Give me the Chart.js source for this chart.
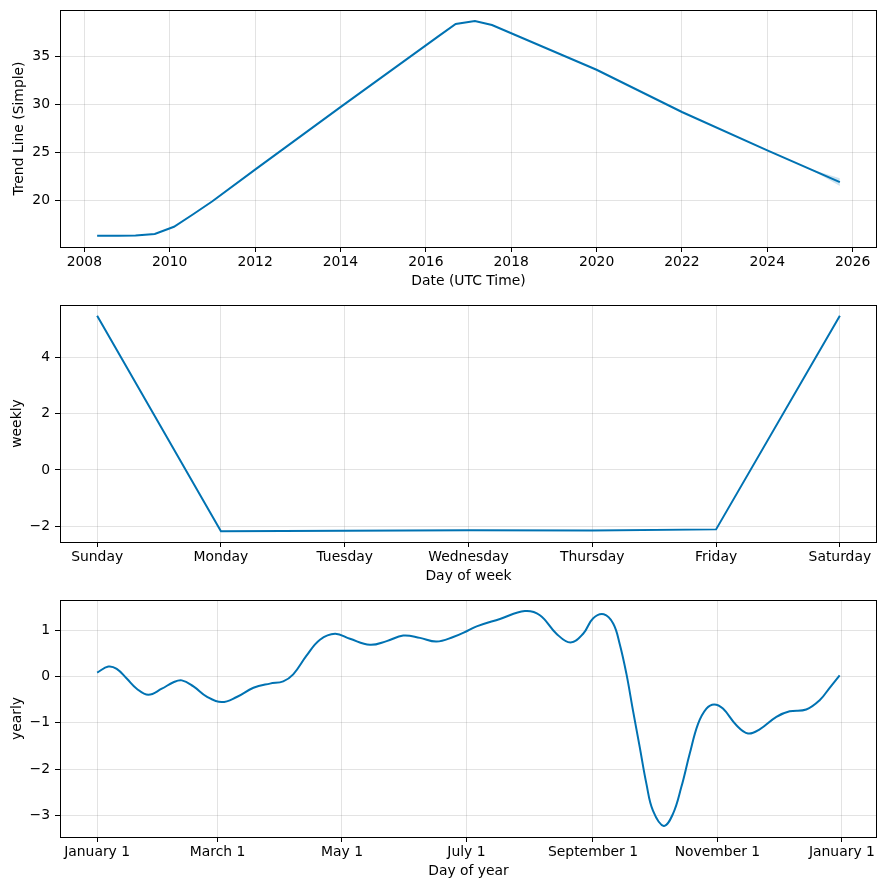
<!DOCTYPE html>
<html>
<head>
<meta charset="utf-8">
<script src="https://cdn.jsdelivr.net/npm/chart.js@4.4.0/dist/chart.umd.min.js"></script>
<style>
body { margin: 0; background: #fff; }
#wrap { position: relative; width: 886px; height: 890px; }
canvas { position: absolute; left: 0; }
</style>
</head>
<body>
<div id="wrap">
<canvas id="trendChart" width="886" height="290" style="top:0px"></canvas>
<canvas id="weeklyChart" width="886" height="290" style="top:295px"></canvas>
<canvas id="yearlyChart" width="886" height="290" style="top:590px"></canvas>
</div>
<script>
// trend component (decimal years)
var trendYears = [2008.3, 2008.8, 2009.2, 2009.65, 2010.1, 2010.55, 2011.0, 2012.0, 2014.0, 2016.3, 2016.7, 2017.15, 2017.55, 2020.0, 2022.0, 2024.0, 2025.7];
var trendValues = [16.30, 16.32, 16.35, 16.5, 17.25, 18.55, 19.9, 23.2, 29.7, 37.1, 38.37, 38.68, 38.26, 33.6, 29.2, 25.2, 21.9];
var bandYears = [2024.9, 2025.3, 2025.7];
var bandLower = [23.45, 22.5, 21.5];
var bandUpper = [23.45, 22.85, 22.3];
var trendTickYears = [2008, 2010, 2012, 2014, 2016, 2018, 2020, 2022, 2024, 2026];
var trendTickValues = [20, 25, 30, 35];

// weekly component
var weekDays = ['Sunday', 'Monday', 'Tuesday', 'Wednesday', 'Thursday', 'Friday', 'Saturday'];
var weeklyValues = [5.5, -2.19, -2.17, -2.15, -2.16, -2.12, 5.5];
var weeklyTickValues = [-2, 0, 2, 4];

// yearly component (day of year)
var yearDays = [0, 5.5, 9.6, 14.5, 19.4, 25.1, 31.7, 37.4, 41.5, 47.2,
    53.7, 61, 68.4, 76.6, 84.7, 91.2, 96.1, 102.7, 109.2, 116.6,
    123.9, 133.7, 141.9, 150, 158.2, 166.3, 174.5, 181.8, 186, 197.4,
    209.6, 217, 225.1, 232, 238.2, 243, 248.3, 252.9, 256.1, 259.4,
    262.6, 265.9, 269.2, 272.4, 277.7, 282.2, 286.3, 290.4, 294.5, 298.6,
    302.4, 306.7, 313.3, 319, 324.7, 332.9, 339.4, 347.5, 354.1, 359, 363.9];
var yearValues = [0.09, 0.22, 0.17, -0.04, -0.26, -0.39, -0.26, -0.12, -0.08, -0.21,
    -0.43, -0.55, -0.44, -0.24, -0.15, -0.10, 0.05, 0.46, 0.80, 0.93,
    0.82, 0.69, 0.77, 0.89, 0.84, 0.76, 0.86, 1.0, 1.09, 1.25,
    1.42, 1.33, 0.93, 0.74, 0.93, 1.26, 1.35, 1.15, 0.71, 0.06,
    -0.73, -1.52, -2.32, -2.90, -3.23, -2.97, -2.39, -1.67, -1.02, -0.69,
    -0.60, -0.69, -1.05, -1.23, -1.14, -0.87, -0.75, -0.71, -0.51, -0.24, 0.03];
var yearTickDays = [0, 59, 120, 181, 243, 304, 365];
var yearTickLabels = ['January 1', 'March 1', 'May 1', 'July 1', 'September 1', 'November 1', 'January 1'];
var yearTickValues = [-3, -2, -1, 0, 1];

var lineColor = '#0072B2';
var font = { family: 'DejaVu Sans', size: 13.9, lineHeight: 1.2 };

function pts(xs, ys) {
    return xs.map(function(x, i) { return { x: x, y: ys[i] }; });
}

function minus(v) {
    return String(v).replace('-', '\u2212');
}

var framePlugin = {
    id: 'frame',
    afterDraw: function(chart) {
        var a = chart.chartArea, ctx = chart.ctx;
        ctx.save();
        ctx.strokeStyle = '#000';
        ctx.lineWidth = 1;
        ctx.strokeRect(Math.round(a.left) + 0.5, Math.round(a.top) + 0.5, Math.round(a.right - a.left) - 1, Math.round(a.bottom - a.top));
        ctx.restore();
    }
};

function axis(min, max, ticks, label, cb, isX, titlePad) {
    return {
        type: 'linear',
        min: min,
        max: max,
        afterBuildTicks: function(s) { s.ticks = ticks.map(function(v) { return { value: v }; }); },
        afterFit: function(s) {
            if (isX) { s.height = 43; s.paddingLeft = 0; s.paddingRight = 0; }
            else { s.width = 60; s.paddingTop = 0; s.paddingBottom = 0; }
        },
        ticks: { callback: cb, font: font, color: '#000', padding: isX ? 2 : 5, maxRotation: 0, autoSkip: false },
        grid: { color: 'rgba(128,128,128,0.22)', tickColor: '#000', tickLength: 5, lineWidth: 1 },
        border: { display: false },
        title: { display: true, text: label, font: font, color: '#000', padding: isX ? { top: 0, bottom: 0 } : { top: titlePad, bottom: 0 } }
    };
}

function baseOptions(xScale, yScale) {
    return {
        responsive: false,
        animation: false,
        devicePixelRatio: 1,
        layout: { padding: { top: 10, right: 9, left: 0, bottom: 0 } },
        plugins: { legend: { display: false }, tooltip: { enabled: false } },
        elements: { point: { radius: 0 } },
        scales: { x: xScale, y: yScale }
    };
}

new Chart(document.getElementById('trendChart').getContext('2d'), {
    type: 'line',
    data: {
        datasets: [
            { data: pts(trendYears, trendValues), borderColor: lineColor, borderWidth: 2, tension: 0, fill: false, order: 0 },
            { data: pts(bandYears, bandUpper), borderWidth: 0, borderColor: 'rgba(0,0,0,0)', backgroundColor: 'rgba(0,114,178,0.2)', fill: '+1', order: 1 },
            { data: pts(bandYears, bandLower), borderWidth: 0, borderColor: 'rgba(0,0,0,0)', fill: false, order: 2 }
        ]
    },
    options: baseOptions(
        axis(2007.43, 2026.57, trendTickYears, 'Date (UTC Time)', function(v) { return String(v); }, true),
        axis(15.14, 39.82, trendTickValues, 'Trend Line (Simple)', function(v) { return String(v); }, false, 11)
    ),
    plugins: [framePlugin]
});

new Chart(document.getElementById('weeklyChart').getContext('2d'), {
    type: 'line',
    data: {
        datasets: [
            { data: pts([0, 1, 2, 3, 4, 5, 6], weeklyValues), borderColor: lineColor, borderWidth: 2, tension: 0, fill: false }
        ]
    },
    options: baseOptions(
        axis(-0.3, 6.3, [0, 1, 2, 3, 4, 5, 6], 'Day of week', function(v) { return weekDays[v]; }, true),
        axis(-2.57, 5.88, weeklyTickValues, 'weekly', minus, false, 9)
    ),
    plugins: [framePlugin]
});

new Chart(document.getElementById('yearlyChart').getContext('2d'), {
    type: 'line',
    data: {
        datasets: [
            { data: pts(yearDays, yearValues), borderColor: lineColor, borderWidth: 2, tension: 0.4, fill: false }
        ]
    },
    options: baseOptions(
        axis(-18.2, 382.2, yearTickDays, 'Day of year', function(v) { return yearTickLabels[yearTickDays.indexOf(v)]; }, true),
        axis(-3.47, 1.66, yearTickValues, 'yearly', minus, false, 9)
    ),
    plugins: [framePlugin]
});
</script>
</body>
</html>
